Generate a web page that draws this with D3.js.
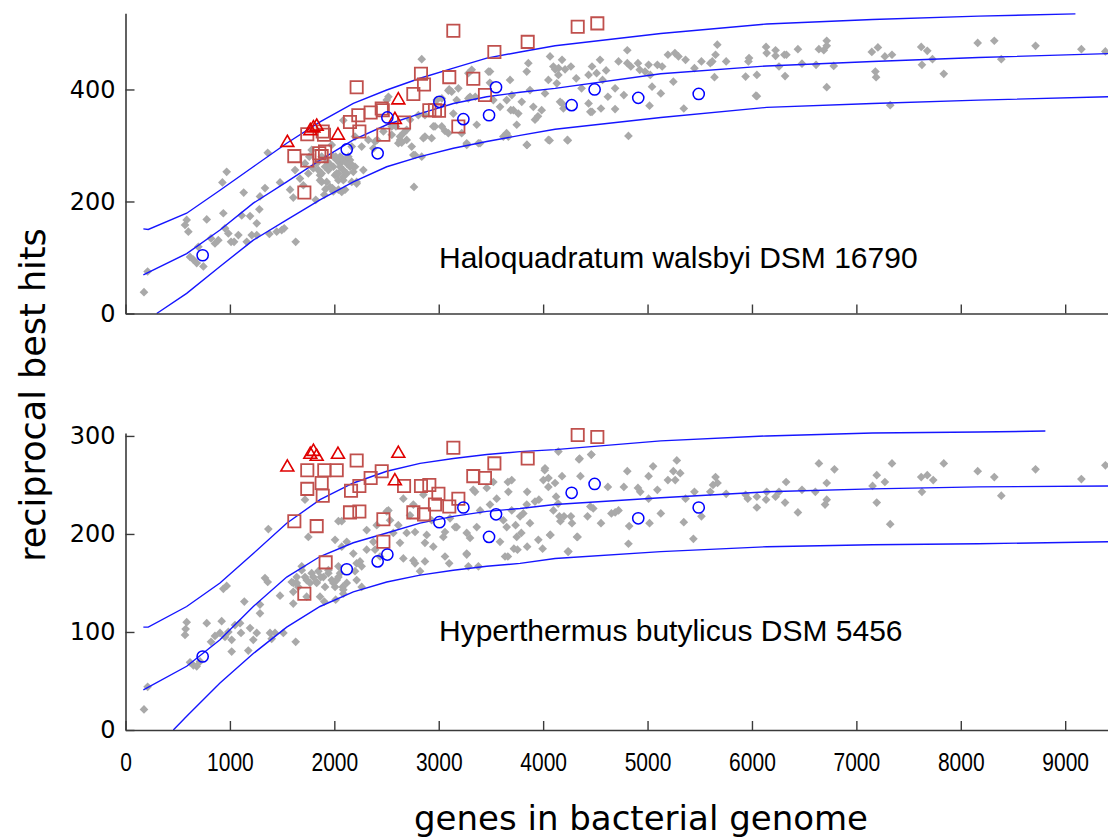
<!DOCTYPE html>
<html>
<head>
<meta charset="utf-8">
<script src="https://cdn.jsdelivr.net/npm/d3@7"></script>
<style>
  html, body { margin: 0; padding: 0; background: #fff; }
  svg { display: block; }
</style>
</head>
<body>
<svg id="chart" width="1108" height="840"></svg>
<script>
// ---- axis ticks ----
const geneTicks = [0, 1000, 2000, 3000, 4000, 5000, 6000, 7000, 8000, 9000];
const haloTicks = [0, 200, 400];
const hyperTicks = [0, 100, 200, 300];

const haloTitle = "Haloquadratum walsbyi DSM 16790";
const hyperTitle = "Hyperthermus butylicus DSM 5456";

// ---- Haloquadratum walsbyi: fitted curve and envelope [genes, hits] ----
const haloUpper = [[171,151],[218,150],[586,179],[905,220],[1224,262],[1544,304],[1863,342],[2182,375],[2502,399],[2821,420],[3140,438],[3460,456],[3779,467],[4114,478],[5127,500],[6141,517],[7155,525],[8169,531],[9098,535]];
const haloFit   = [[171,69],[586,107],[905,149],[1224,197],[1544,235],[1863,274],[2182,310],[2502,337],[2821,357],[3140,375],[3460,387],[3779,395],[4114,402],[5127,428],[6141,442],[7155,450],[8169,457],[9410,464]];
const haloLower = [[299,0],[586,36],[905,84],[1224,131],[1544,167],[1863,203],[2182,235],[2502,262],[2821,280],[3140,295],[3460,307],[3779,318],[4114,329],[5127,350],[6141,368],[7155,375],[8169,381],[9410,387]];

// ---- Haloquadratum walsbyi: genomes [genes, hits] ----
const haloOther = [[177,38],[212,75],[586,167],[570,158],[602,146],[618,101],[650,96],[682,90],[698,119],[746,84],[778,168],[819,134],[857,125],[889,131],[937,179],[928,234],[953,152],[969,253],[985,143],[1011,128],[1040,128],[1081,140],[1113,175],[1132,216],[1161,128],[1193,174],[1209,140],[1257,140],[1257,161],[1282,186],[1288,209],[1336,224],[1362,287],[1378,142],[1448,146],[1480,234],[1496,149],[1520,152],[1576,221],[1607,207],[1630,128],[1624,256],[1671,241],[1703,229],[1719,268],[1751,250],[1799,259],[1822,203],[1863,247],[1879,235],[1904,212],[1915,222],[1952,268],[1981,224],[2007,247],[2013,280],[2039,238],[2071,217],[2086,345],[2055,268],[2086,256],
  [1783,292],[1760,280],[1831,268],[1879,250],[1927,271],[1975,301],[1991,262],[2023,250],[2055,280],[2086,274],[2119,268],[2150,262],[2182,253],[2214,235],[2039,221],[1990,218],[2167,298],[2198,316],[2262,298],[2278,256],[2326,310],[2374,295],[2410,310],[2470,325],[2502,381],[2518,387],[2550,334],[2613,304],[2630,310],[2661,322],[2693,328],[2725,346],[2757,283],[2763,226],[2837,454],[2853,313],[2868,354],[2948,334],[2981,381],[3030,384],[3092,398],[3140,357],[3172,381],[3268,304],[3284,384],[3316,435],[3364,337],[3396,304],[3491,432],[3523,381],[3587,369],[3619,316],[3650,322],[3683,417],[3715,363],[3747,337],
  [1879,280],[1911,262],[1943,256],[1991,280],[2055,262],[2086,244],[2119,250],[2150,274],[1863,238],[1927,235],[2023,274],[1847,256],[1959,226],
  [3651,381],[3690,363],[3700,390],[3762,357],[3795,378],[3843,432],[3858,447],[3874,399],[3906,369],[3922,346],[3950,352],[3986,363],[4018,393],[4050,417],[4066,459],[4098,441],[4115,436],[4146,426],[4162,378],[4194,366],[4050,310],[3843,301],[3667,316],[3476,432],[3490,412],[3284,429],[3300,387],[3350,387],[3188,402],[3124,396],[3100,400],[3029,334],[3060,326],[2964,334],[2932,313],[2868,316],[2805,354],[2773,283],[2837,280],[2741,298],[2693,310],[2629,316],[2645,305],[2550,319],[2590,334],[2390,307],[2198,262],[2134,280],[2170,265],[2071,277],[2039,250],[2086,238],[2167,235],[2214,232],[2103,221],[3268,301],[3380,304],[3092,322],[3220,322],
  [4181,453],[4148,438],[4210,436],[4266,441],[4131,411],[4317,420],[4368,402],[4435,426],[4468,441],[4512,429],[4545,453],[4569,417],[4603,434],[4620,387],[4554,366],[4468,360],[4689,402],[4689,365],[4722,450],[4773,390],[4806,470],[4806,447],[4840,441],[4908,447],[4925,435],[4976,432],[5010,444],[5026,426],[5043,405],[5094,444],[5127,393],[5140,441],[5019,371],[5195,462],[5247,414],[5262,465],[5296,459],[5347,366],[5364,453],[5449,438],[5516,450],[5601,447],[5620,450],[5641,422],[5651,462],[5668,480],[5753,450],[5939,423],[5966,450],[5972,456],[6047,426],[6047,388],[6135,476],[6141,465],[6226,470],[6226,460],[6259,441],[6310,462],[6330,462],[6317,424],[6440,472],[6479,446],[6614,444],[6641,472],[6688,470],[6716,487],[6716,478],[6716,404],[6783,442],[7148,467],[7206,475],[7182,432],[7189,422],[7273,459],[7341,462],[7324,372],[7621,476],[7628,444],[7679,469],[7729,454],[7837,428],[8162,483],[8321,487],[8388,454],[8716,478],[9155,472],[9385,468],[4232,310],[4817,317],[4181,375],[4435,375],[4452,360],[3846,301],[4062,309],[4236,309],[6038,389]];
const haloSquares = [[1617,281],[1741,273],[1713,216],[1741,320],[1856,286],[1879,281],[1911,289],[1901,319],[1889,325],[2150,342],[2230,354],[2240,325],[2214,404],[2348,359],[2454,366],[2464,363],[2470,319],[2668,341],[2757,392],[2830,428],[2859,409],[2910,363],[2964,363],[3003,362],[3101,422],[3140,505],[3188,334],[3331,419],[3443,390],[3533,467],[3852,485],[4331,512],[4519,518]];
const haloTriangles = [[1550,305],[1770,326],[1800,331],[1831,334],[2035,318],[2613,381],[2580,346]];
const haloCircles = [[739,104],[2119,293],[2415,286],[2508,350],[3006,378],[3236,347],[3482,354],[3549,404],[4273,372],[4493,400],[4911,385],[5490,392]];

// ---- Hyperthermus butylicus: fitted curve and envelope [genes, hits] ----
const hyperUpper = [[171,105],[218,105],[586,126],[905,150],[1224,180],[1544,211],[1863,235],[2182,252],[2502,264],[2821,272],[3140,277],[3460,281],[3779,284],[4114,286],[5127,295],[6141,300],[7155,303],[8169,304],[8810,305]];
const hyperFit   = [[171,41],[586,65],[905,92],[1224,126],[1544,156],[1863,177],[2182,191],[2502,201],[2821,211],[3140,218],[3460,223],[3779,226],[4114,230],[5127,237],[6141,243],[7155,246],[8169,248],[9410,249]];
const hyperLower = [[458,0],[586,14],[905,48],[1224,78],[1544,105],[1863,126],[2182,141],[2502,151],[2821,158],[3140,163],[3460,167],[3779,170],[4114,175],[5127,182],[6141,187],[7155,189],[8169,190],[9410,192]];

// ---- Hyperthermus butylicus: genomes [genes, hits] ----
const hyperOther = [[177,21],[212,44],[586,110],[576,103],[570,97],[618,69],[650,66],[682,65],[714,70],[778,109],[819,90],[857,96],[905,99],[921,111],[937,144],[953,95],[969,147],[985,100],[1017,92],[1017,80],[1049,107],[1097,109],[1106,99],[1138,131],[1176,81],[1193,104],[1224,92],[1257,99],[1288,128],[1288,119],[1336,155],[1362,151],[1368,205],[1384,99],[1400,93],[1432,99],[1480,137],[1512,99],[1607,129],[1630,90],[1607,141],[1592,151],[1640,150],[1655,146],[1688,167],[1719,235],[1751,197],[1719,156],[1767,150],[1799,156],[1831,151],[1847,162],[1870,156],[1904,131],[1911,146],[1943,160],[1975,153],[2007,194],[2007,146],[2013,133],[2039,167],[2055,160],[2071,187],[2080,146],[2039,213],
  [1640,156],[1688,163],[1735,153],[1783,160],[1831,150],[1895,156],[1943,163],[1991,150],[2039,156],[2086,143],[1863,136],[1735,136],[1607,150],
  [2071,213],[2119,192],[2182,180],[2214,153],[2246,172],[2262,167],[2310,184],[2310,204],[2374,192],[2406,209],[2438,177],[2502,223],[2534,214],[2565,201],[2613,209],[2629,191],[2661,175],[2693,201],[2725,219],[2757,173],[2757,230],[2773,202],[2821,162],[2853,240],[2868,191],[2932,214],[2948,187],[3044,197],[3060,177],[3108,216],[3172,207],[3268,180],[3300,196],[3331,245],[3364,207],[3396,224],[3491,230],[3523,253],[3555,236],[3587,192],[3635,177],[3651,207],[3699,255],[3747,197],
  [2518,224],[2661,236],[2885,199],[3060,202],[3156,207],[3268,201],[3268,179],[3348,243],[3460,247],[3619,214],[3667,243],[3779,218],[3843,230],[3874,211],[3922,233],[3954,194],[4002,255],[4018,267],[4050,248],[4066,199],[4098,224],[4114,252],[4146,284],[3720,185],[3284,167],[3380,167],[2868,172],[2773,170],[3100,170],[2390,184],[2214,170],[2119,150],[2023,153],[2086,139],[2262,146],[2198,162],
  [4181,259],[4344,276],[4462,281],[4357,259],[4156,218],[4165,213],[4266,218],[4276,211],[4324,197],[4242,182],[4425,218],[4452,228],[4480,226],[4554,211],[4620,248],[4654,221],[4690,222],[4806,264],[4773,248],[4824,208],[4817,190],[4908,247],[4930,243],[5010,259],[5010,236],[5019,211],[5053,269],[5094,245],[5127,221],[5195,255],[5247,264],[5265,255],[5280,275],[5313,262],[5347,212],[5364,236],[5439,195],[5449,243],[5516,218],[5601,243],[5627,250],[5651,258],[5670,252],[5753,241],[5939,240],[5960,236],[6047,227],[6047,238],[6135,235],[6141,243],[6226,238],[6259,243],[6327,253],[6317,232],[6440,222],[6479,245],[6607,243],[6641,272],[6716,252],[6716,235],[6700,230],[6790,266],[7155,249],[7195,260],[7195,232],[7273,253],[7341,272],[7324,210],[7621,258],[7628,243],[7679,260],[7736,255],[7837,272],[8162,264],[8321,258],[8388,239],[8716,266],[9155,256],[9385,270],[4124,238],[4722,224],[3662,253],[3699,224],[3810,221],[3847,243],[3959,235],[4015,265],[4051,257],[4144,231],[4200,218],[4330,197],[4237,182],[4070,199],[3995,185],[3847,187],[3754,184],[3662,177],[3736,209],[3791,201],[4349,277],[4460,281]];
const hyperSquares = [[1617,213],[1741,265],[1741,246],[1713,139],[1831,208],[1889,239],[1879,252],[1904,265],[2023,265],[1917,171],[2214,275],[2160,244],[2150,222],[2240,223],[2240,249],[2348,257],[2454,264],[2470,215],[2470,192],[2668,249],[2757,222],[2830,249],[2910,250],[2859,220],[2964,230],[2997,241],[3101,228],[3140,288],[3188,236],[3331,259],[3443,257],[3533,272],[3852,277],[4331,301],[4519,299]];
const hyperTriangles = [[1550,268],[1770,281],[1800,284],[1831,279],[2035,281],[2613,282],[2580,254]];
const hyperCircles = [[739,75],[2119,164],[2415,172],[2508,179],[3006,212],[3236,227],[3482,197],[3549,220],[4273,242],[4493,251],[4911,216],[5490,227]];

// ---- layout ----
const svg = d3.select("#chart");
const x = d3.scaleLinear().domain([0, 9410]).range([125.5, 1108]);

const panels = [
  { title: haloTitle, ticks: haloTicks, yDomain: [0, 536], yRange: [313.5, 13.3],
    upper: haloUpper, fit: haloFit, lower: haloLower,
    other: haloOther, squares: haloSquares, triangles: haloTriangles, circles: haloCircles,
    labelY: 268, showX: false },
  { title: hyperTitle, ticks: hyperTicks, yDomain: [0, 303], yRange: [730, 433],
    upper: hyperUpper, fit: hyperFit, lower: hyperLower,
    other: hyperOther, squares: hyperSquares, triangles: hyperTriangles, circles: hyperCircles,
    labelY: 641, showX: true }
];

// filled diamond with equal width and height
const diamond = {
  draw(ctx, size) {
    const r = Math.sqrt(size / 2);
    ctx.moveTo(0, -r); ctx.lineTo(r, 0); ctx.lineTo(0, r); ctx.lineTo(-r, 0); ctx.closePath();
  }
};

const axisColor = "#3a3a3a";

panels.forEach(p => {
  const y = d3.scaleLinear().domain(p.yDomain).range(p.yRange);
  const g = svg.append("g");

  // genomes (grey)
  g.append("g").selectAll("path").data(p.other).join("path")
    .attr("transform", d => `translate(${x(d[0])},${y(d[1])})`)
    .attr("d", d3.symbol().type(diamond).size(38))
    .attr("fill", "#a9a9a9");

  // fitted curve and envelope
  const line = d3.line().x(d => x(d[0])).y(d => y(d[1])).curve(d3.curveLinear);
  [p.upper, p.fit, p.lower].forEach(c => {
    g.append("path").datum(c).attr("d", line)
      .attr("fill", "none").attr("stroke", "#1515ff").attr("stroke-width", 1.4);
  });

  // squares
  g.append("g").selectAll("path").data(p.squares).join("path")
    .attr("transform", d => `translate(${x(d[0])},${y(d[1])})`)
    .attr("d", d3.symbol().type(d3.symbolSquare).size(150))
    .attr("fill", "none").attr("stroke", "#c0504d").attr("stroke-width", 1.8);

  // triangles
  g.append("g").selectAll("path").data(p.triangles).join("path")
    .attr("transform", d => `translate(${x(d[0])},${y(d[1])})`)
    .attr("d", d3.symbol().type(d3.symbolTriangle).size(72))
    .attr("fill", "none").attr("stroke", "#e00000").attr("stroke-width", 1.6);

  // circles
  g.append("g").selectAll("circle").data(p.circles).join("circle")
    .attr("cx", d => x(d[0])).attr("cy", d => y(d[1])).attr("r", 5.6)
    .attr("fill", "none").attr("stroke", "#0000ff").attr("stroke-width", 1.5);

  // axes with inward ticks
  const yAxis = d3.axisLeft(y).tickValues(p.ticks).tickSizeInner(-9).tickSizeOuter(0).tickPadding(10)
    .tickFormat(d3.format("d"));
  const ya = g.append("g").attr("transform", `translate(${x(0)},0)`).call(yAxis);
  ya.selectAll("text").attr("font-family", "DejaVu Sans").attr("font-size", 24).attr("fill", "#000");

  const xAxis = d3.axisBottom(x).tickValues(geneTicks).tickSizeInner(-9).tickSizeOuter(0)
    .tickFormat(p.showX ? d3.format("d") : () => "");
  const xa = g.append("g").attr("transform", `translate(0,${p.yRange[0]})`).call(xAxis);
  // tick labels: slightly tall digits, baseline 41px below the axis
  xa.selectAll("text")
    .attr("y", 0).attr("dy", 0)
    .attr("transform", "translate(0,41) scale(1,1.2)")
    .attr("font-family", "Liberation Sans").attr("font-size", 21).attr("fill", "#000");

  [ya, xa].forEach(a => {
    a.select(".domain").attr("stroke", axisColor).attr("stroke-width", 1.6);
    a.selectAll(".tick line").attr("stroke", axisColor).attr("stroke-width", 1.4);
  });

  // genome name
  g.append("text").attr("x", 439).attr("y", p.labelY)
    .attr("font-family", "Liberation Sans").attr("font-size", 30).attr("fill", "#000")
    .text(p.title);
});

// axis titles
svg.append("text")
  .attr("transform", "translate(45,395) rotate(-90)")
  .attr("text-anchor", "middle")
  .attr("font-family", "DejaVu Sans").attr("font-size", 35).attr("fill", "#000")
  .text("reciprocal best hits");

svg.append("text")
  .attr("x", 641).attr("y", 830)
  .attr("text-anchor", "middle")
  .attr("font-family", "DejaVu Sans").attr("font-size", 34).attr("fill", "#000")
  .text("genes in bacterial genome");
</script>
</body>
</html>
